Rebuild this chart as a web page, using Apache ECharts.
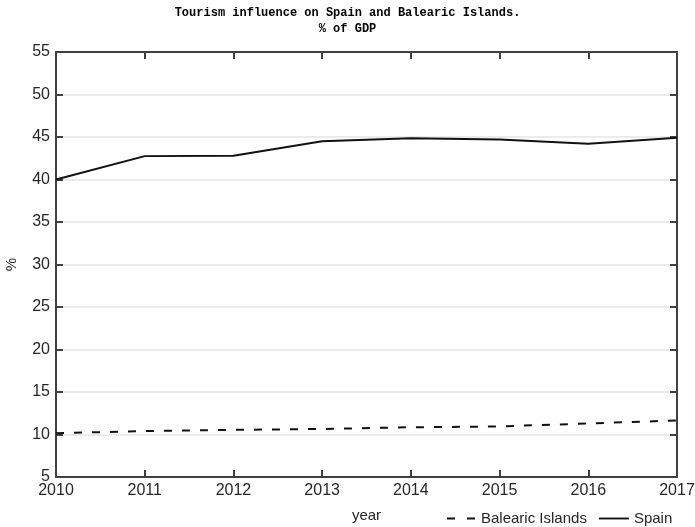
<!DOCTYPE html>
<html>
<head>
<meta charset="utf-8">
<script src="https://cdn.jsdelivr.net/npm/echarts@6/dist/echarts.min.js"></script>
<style>
html, body { margin: 0; padding: 0; background: #fff; }
#chart { width: 695px; height: 527px; }
</style>
</head>
<body>
<div id="chart"></div>
<script>
// data
var years = [2010, 2011, 2012, 2013, 2014, 2015, 2016, 2017];
var spain = [40.0, 42.75, 42.8, 44.5, 44.85, 44.7, 44.2, 44.9];
var balearic = [10.15, 10.4, 10.55, 10.65, 10.85, 10.95, 11.3, 11.65];
var yTicks = [5, 10, 15, 20, 25, 30, 35, 40, 45, 50, 55];

function pairs(vals) {
    return years.map(function (y, i) { return [y, vals[i]]; });
}

var axisColor = '#404040';
var textColor = '#262626';

var chart = echarts.init(document.getElementById('chart'));
chart.setOption({
    backgroundColor: '#fff',
    animation: false,
    title: {
        text: 'Tourism influence on Spain and Balearic Islands.\n% of GDP',
        left: 'center',
        top: 0,
        textStyle: {
            fontFamily: 'Liberation Mono',
            fontWeight: 'bold',
            fontSize: 12,
            lineHeight: 16,
            color: '#000'
        }
    },
    legend: {
        left: 442,
        top: 506,
        itemWidth: 30,
        itemHeight: 2,
        itemGap: 12,
        textStyle: { fontFamily: 'Liberation Sans', fontSize: 15, color: textColor },
        data: [
            { name: 'Balearic Islands', icon: 'path://M0,0h8v2h-8z M20,0h8v2h-8z' },
            { name: 'Spain', icon: 'path://M0,0h32v2h-32z' }
        ]
    },
    grid: {
        left: 56,
        right: 18,
        top: 52,
        bottom: 50,
        containLabel: false,
        outerBoundsMode: 'none'
    },
    xAxis: [{
        type: 'value',
        min: years[0],
        max: years[years.length - 1],
        interval: 1,
        name: 'year',
        nameLocation: 'middle',
        nameGap: 31,
        nameTextStyle: { fontFamily: 'Liberation Sans', fontSize: 15, color: textColor },
        axisLine: { lineStyle: { color: axisColor, width: 2 } },
        axisTick: { inside: true, length: 7, lineStyle: { color: axisColor, width: 2 } },
        axisLabel: {
            fontFamily: 'Liberation Sans', fontSize: 16, color: textColor, margin: 6,
            formatter: function (v) { return String(v); }
        },
        splitLine: { show: false }
    }, {
        type: 'value',
        position: 'top',
        min: years[0],
        max: years[years.length - 1],
        interval: 1,
        axisLine: { lineStyle: { color: axisColor, width: 2 } },
        axisTick: { inside: true, length: 7, lineStyle: { color: axisColor, width: 2 } },
        axisLabel: { show: false },
        splitLine: { show: false }
    }],
    yAxis: [{
        type: 'value',
        min: yTicks[0],
        max: yTicks[yTicks.length - 1],
        interval: 5,
        name: '%',
        nameLocation: 'middle',
        nameRotate: 90,
        nameGap: 37,
        nameTextStyle: { fontFamily: 'Liberation Sans', fontSize: 15, color: textColor },
        axisLine: { show: true, lineStyle: { color: axisColor, width: 2 } },
        axisTick: { show: true, inside: true, length: 7, lineStyle: { color: axisColor, width: 2 } },
        axisLabel: { fontFamily: 'Liberation Sans', fontSize: 16, color: textColor, margin: 6 },
        splitLine: { show: true, lineStyle: { color: '#ebebeb', width: 2 } }
    }, {
        type: 'value',
        position: 'right',
        min: yTicks[0],
        max: yTicks[yTicks.length - 1],
        interval: 5,
        axisLine: { show: true, lineStyle: { color: axisColor, width: 2 } },
        axisTick: { show: true, inside: true, length: 7, lineStyle: { color: axisColor, width: 2 } },
        axisLabel: { show: false },
        splitLine: { show: false }
    }],
    series: [{
        name: 'Balearic Islands',
        type: 'line',
        showSymbol: false,
        symbol: 'none',
        data: pairs(balearic),
        lineStyle: { color: '#111', width: 2, type: [8, 10] },
        itemStyle: { color: '#111' }
    }, {
        name: 'Spain',
        type: 'line',
        showSymbol: false,
        symbol: 'none',
        data: pairs(spain),
        lineStyle: { color: '#111', width: 2, type: 'solid' },
        itemStyle: { color: '#111' }
    }]
});
</script>
</body>
</html>
